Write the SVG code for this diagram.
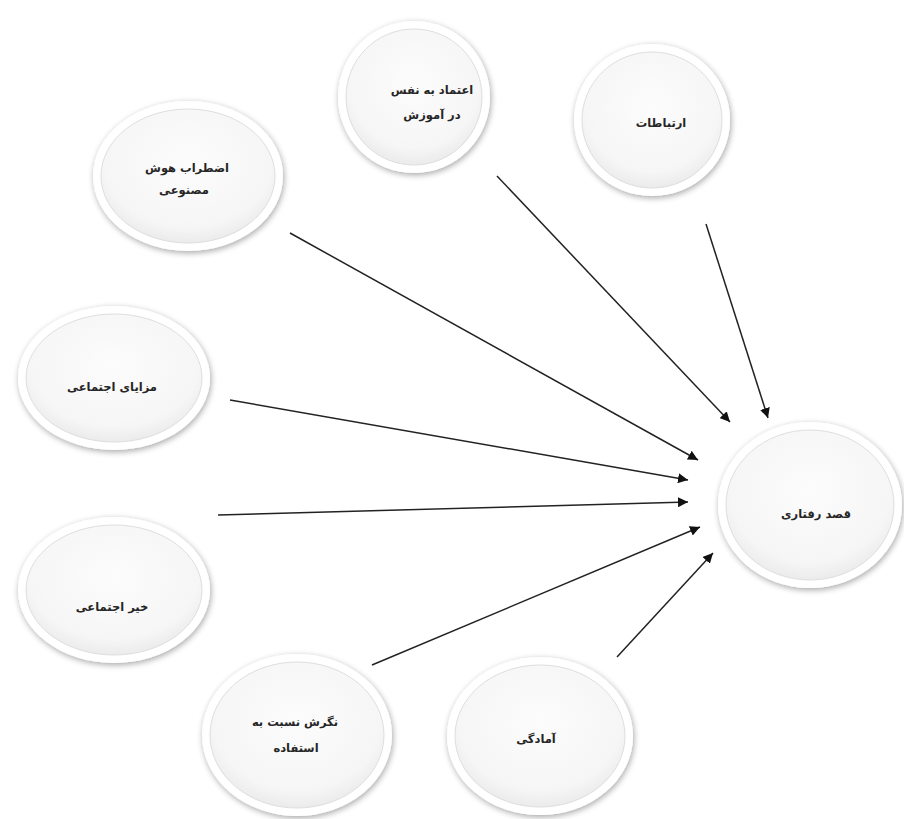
<svg xmlns="http://www.w3.org/2000/svg" width="904" height="819" viewBox="0 0 904 819">
<style>
.t{font-family:"DejaVu Sans","Noto Sans",sans-serif;font-size:11.5px;font-weight:bold;fill:#262626;text-anchor:middle;direction:rtl}
.outer{fill:#ffffff;filter:url(#sh)}
.inner{fill:url(#g);stroke:#dedede;stroke-width:1}
.c{stroke:#222;stroke-width:1.5;fill:none;marker-end:url(#ah)}
</style>
<defs>
<filter id="sh" x="-20%" y="-20%" width="140%" height="140%">
<feGaussianBlur in="SourceAlpha" stdDeviation="3"/>
<feOffset dx="1" dy="2" result="b"/>
<feComponentTransfer><feFuncA type="linear" slope="0.35"/></feComponentTransfer>
<feMerge><feMergeNode/><feMergeNode in="SourceGraphic"/></feMerge>
</filter>
<radialGradient id="g" cx="50%" cy="40%" r="60%">
<stop offset="0" stop-color="#fcfcfc"/>
<stop offset="0.8" stop-color="#f6f6f6"/>
<stop offset="1" stop-color="#ebebeb"/>
</radialGradient>
<marker id="ah" viewBox="0 0 10 10" refX="10" refY="5" markerWidth="10" markerHeight="10" markerUnits="userSpaceOnUse" orient="auto">
<path d="M0,0 L10,5 L0,10 Z" fill="#111"/>
</marker>
</defs>
<rect width="904" height="819" fill="#ffffff"/>
<g id="connectors">
<line class="c" x1="497" y1="176" x2="730" y2="422"/>
<line class="c" x1="706" y1="224" x2="768" y2="418"/>
<line class="c" x1="290" y1="233" x2="698" y2="460"/>
<line class="c" x1="230" y1="400" x2="688" y2="480"/>
<line class="c" x1="218" y1="515" x2="688" y2="502"/>
<line class="c" x1="372" y1="665" x2="700" y2="527"/>
<line class="c" x1="617" y1="657" x2="713" y2="553"/>
</g>
<g id="n1">
<ellipse class="outer" cx="414" cy="97" rx="76" ry="76"/>
<ellipse class="inner" cx="414" cy="97" rx="68" ry="68"/>
<text class="t" x="432" y="94">اعتماد به نفس</text>
<text class="t" x="432" y="119">در آموزش</text>
</g>
<g id="n2">
<ellipse class="outer" cx="652" cy="120" rx="78" ry="76"/>
<ellipse class="inner" cx="652" cy="120" rx="70" ry="68"/>
<text class="t" x="661" y="127">ارتباطات</text>
</g>
<g id="n3">
<ellipse class="outer" cx="188" cy="176" rx="95" ry="75"/>
<ellipse class="inner" cx="188" cy="176" rx="87" ry="67"/>
<text class="t" x="187" y="172">اضطراب هوش</text>
<text class="t" x="184" y="194">مصنوعی</text>
</g>
<g id="n4">
<ellipse class="outer" cx="114" cy="378" rx="96" ry="72"/>
<ellipse class="inner" cx="114" cy="378" rx="88" ry="64"/>
<text class="t" x="112" y="391">مزایای اجتماعی</text>
</g>
<g id="n5">
<ellipse class="outer" cx="114" cy="590" rx="96" ry="73"/>
<ellipse class="inner" cx="114" cy="590" rx="88" ry="65"/>
<text class="t" x="112" y="611">خیر اجتماعی</text>
</g>
<g id="n6">
<ellipse class="outer" cx="297" cy="735" rx="95" ry="81"/>
<ellipse class="inner" cx="297" cy="735" rx="87" ry="73"/>
<text class="t" x="295" y="726">نگرش نسبت به</text>
<text class="t" x="296" y="752">استفاده</text>
</g>
<g id="n7">
<ellipse class="outer" cx="540" cy="736" rx="93" ry="79"/>
<ellipse class="inner" cx="540" cy="736" rx="85" ry="71"/>
<text class="t" x="536" y="743">آمادگی</text>
</g>
<g id="n8">
<ellipse class="outer" cx="810" cy="505" rx="92" ry="83"/>
<ellipse class="inner" cx="810" cy="505" rx="84" ry="75"/>
<text class="t" x="816" y="518">قصد رفتاری</text>
</g>
</svg>
